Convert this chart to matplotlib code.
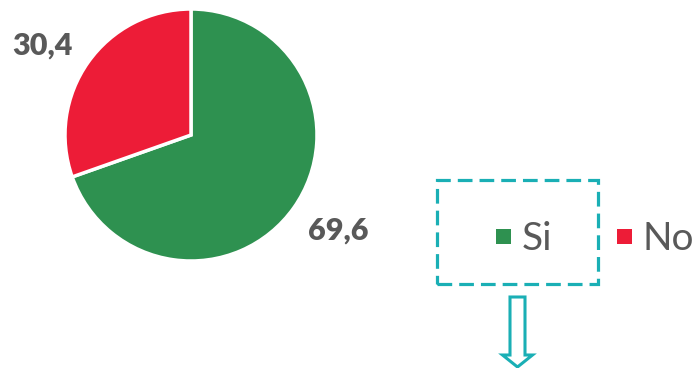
import matplotlib
matplotlib.use("Agg")
import matplotlib.pyplot as plt
from matplotlib.patches import Rectangle, FancyArrow

# Survey answer shares (percent)
categories = ["Si", "No"]
values = [69.6, 30.4]
colors = ["#2E9150", "#ED1C37"]

TEXT = "#595959"
TEAL = "#1AAFB5"

W, H = 695, 368
fig = plt.figure(figsize=(W / 100, H / 100), dpi=100)
ax = fig.add_axes([0, 0, 1, 1])

cx, cy, r = 191, H - 135, 126
ax.pie(values, colors=colors, startangle=90, counterclock=False,
       center=(cx, cy), radius=r, frame=True,
       wedgeprops=dict(edgecolor="white", linewidth=2.5))
ax.set_xlim(0, W)
ax.set_ylim(0, H)
ax.set_aspect("auto")
ax.axis("off")

def fmt(v):
    return f"{v:.1f}".replace(".", ",")

# value labels
ax.text(12, H - 55, fmt(values[1]), fontsize=22, fontweight="heavy",
        family="Lato", color=TEXT, ha="left", va="baseline")
ax.text(308, H - 240, fmt(values[0]), fontsize=22, fontweight="heavy",
        family="Lato", color=TEXT, ha="left", va="baseline")

# legend entries
legend_x = [496, 617]
baseline = H - 250
for x, lab, col in zip(legend_x, categories, colors):
    ax.add_patch(Rectangle((x, H - 244), 15, 15, facecolor=col, edgecolor="none"))
    ax.text(x + 26, baseline, lab, fontsize=28, family="Lato",
            color=TEXT, ha="left", va="baseline")

# dashed highlight box around the "Si" entry
ax.add_patch(Rectangle((437, H - 284), 161, 104, fill=False, edgecolor=TEAL,
                       linewidth=2.3, linestyle=(0, (4.6, 2.2))))

# outlined arrow pointing down
ax.add_patch(FancyArrow(517.5, H - 297, 0, -70, width=15, head_width=30,
                        head_length=12, length_includes_head=True,
                        fill=False, edgecolor=TEAL, linewidth=2.2))

fig.savefig("out.png", dpi=100)
